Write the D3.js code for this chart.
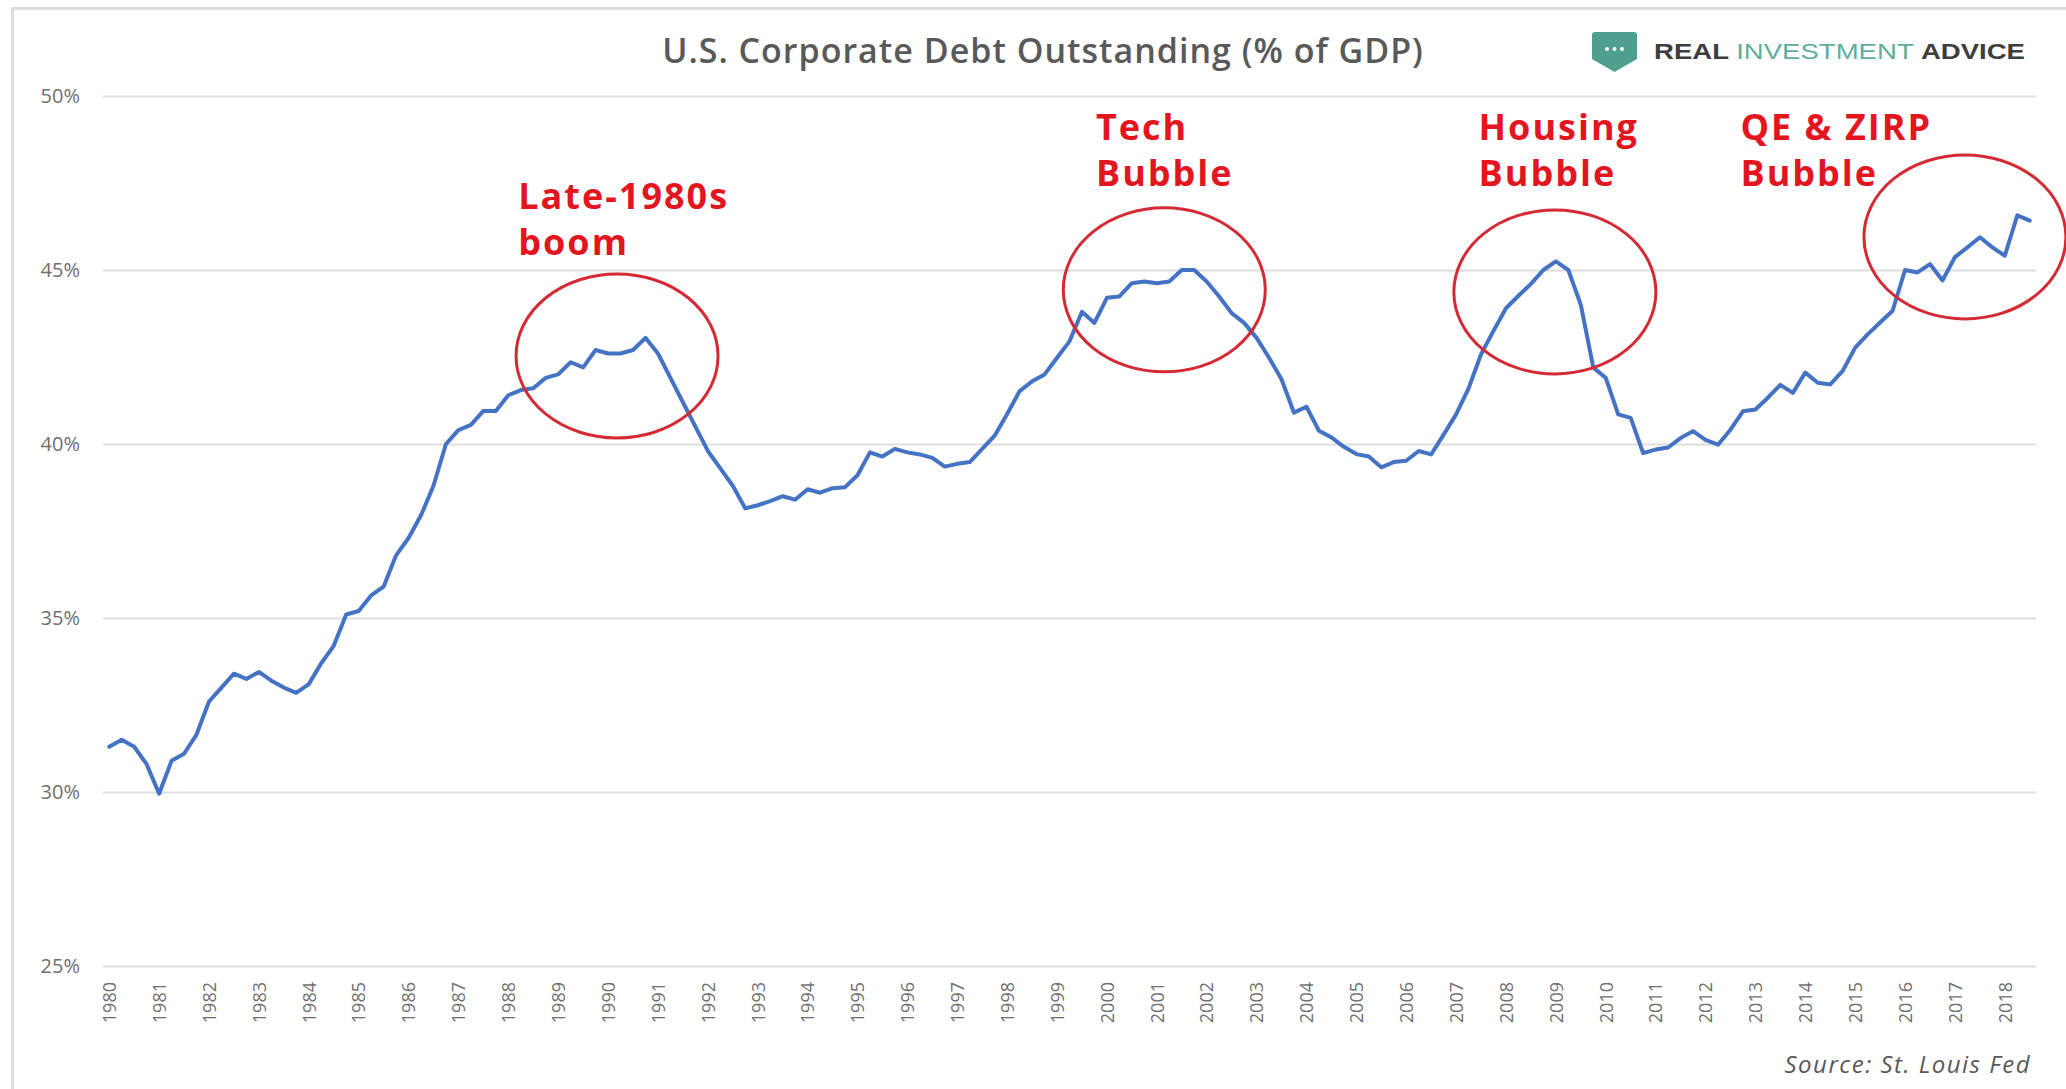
<!DOCTYPE html>
<html>
<head>
  <meta charset="utf-8" />
  <script src="https://d3js.org/d3.v7.min.js"></script>
  <style>
    * {
      margin: 0;
      padding: 0;
      box-sizing: border-box;
    }

    body {
      background-color: #ffffff;
      width: 2066px;
      height: 1089px;
      overflow: hidden;
    }

    svg {
      display: block;
    }

    .axis text {
      font-family: "Open Sans", "Liberation Sans", sans-serif;
      fill: #6f6f6f;
    }

    .annot {
      font-family: "Open Sans", sans-serif;
      font-weight: 700;
      fill: #e3161f;
      letter-spacing: 2px;
    }
  </style>
</head>
<body>
  <svg width="2066" height="1089"></svg>

  <script>
    // quarterly corporate debt, % of GDP, 1980 Q1 .. 2018 Q3
    const startYear = 1980;
    const debtPct = [
      31.3, 31.5, 31.3, 30.8,   // 1980
      29.95, 30.9, 31.1, 31.65, // 1981
      32.6, 33.0, 33.4, 33.25,  // 1982
      33.45, 33.2, 33.0, 32.85, // 1983
      33.1, 33.7, 34.2, 35.1,   // 1984
      35.2, 35.65, 35.9, 36.8,  // 1985
      37.3, 37.95, 38.8, 40.0,  // 1986
      40.4, 40.55, 40.95, 40.95, // 1987
      41.4, 41.55, 41.6, 41.9,  // 1988
      42.0, 42.35, 42.2, 42.7,  // 1989
      42.6, 42.6, 42.7, 43.05,  // 1990
      42.6, 41.9, 41.2, 40.5,   // 1991
      39.8, 39.3, 38.8, 38.15,  // 1992
      38.24, 38.36, 38.5, 38.4, // 1993
      38.7, 38.6, 38.73, 38.76, // 1994
      39.1, 39.76, 39.64, 39.86, // 1995
      39.76, 39.7, 39.6, 39.35, // 1996
      39.43, 39.48, 39.86, 40.24, // 1997
      40.86, 41.52, 41.8, 42.0, // 1998
      42.48, 42.95, 43.8, 43.48, // 1999
      44.2, 44.24, 44.62, 44.67, // 2000
      44.62, 44.67, 45.0, 45.0, // 2001
      44.67, 44.24, 43.76, 43.48, // 2002
      43.05, 42.48, 41.86, 40.9, // 2003
      41.07, 40.38, 40.19, 39.92, // 2004
      39.71, 39.64, 39.33, 39.48, // 2005
      39.52, 39.8, 39.7, 40.27, // 2006
      40.85, 41.6, 42.58, 43.25, // 2007
      43.9, 44.26, 44.6, 45.0,  // 2008
      45.25, 45.0, 44.0, 42.2,  // 2009
      41.9, 40.85, 40.75, 39.74, // 2010
      39.84, 39.9, 40.17, 40.37, // 2011
      40.12, 39.98, 40.41, 40.94, // 2012
      40.99, 41.33, 41.7, 41.47, // 2013
      42.05, 41.76, 41.71, 42.1, // 2014
      42.77, 43.15, 43.49, 43.83, // 2015
      45.0, 44.93, 45.17, 44.7, // 2016
      45.37, 45.65, 45.94, 45.65, // 2017
      45.41, 46.57, 46.42       // 2018
    ];

    const yTicks = [25, 30, 35, 40, 45, 50];

    // annotation labels, anchored in data units (year, % of GDP)
    const noteLines = [["Late-1980s", "boom"], ["Tech", "Bubble"], ["Housing", "Bubble"], ["QE & ZIRP", "Bubble"]];
    const noteYear = [1988.2, 1999.78, 2007.45, 2012.7];
    const noteValue = [46.75, 48.75, 48.75, 48.75];

    // red circles round each peak
    const circleYear = [1990.18, 2001.15, 2008.98, 2017.2];
    const circleValue = [42.53, 44.43, 44.37, 45.95];

    const svg = d3.select("svg");
    const W = 2066, H = 1089;
    const plot = { left: 103, right: 2036, top: 96, bottom: 966 };

    // outer frame of the picture
    svg.append("rect")
      .attr("x", 12.5).attr("y", 8.5)
      .attr("width", W).attr("height", H)
      .attr("fill", "#fff")
      .attr("stroke", "#dcdcdc")
      .attr("stroke-width", 3);

    const idx = d3.range(debtPct.length);
    const x = d3.scalePoint().domain(idx).range([plot.left, plot.right]).padding(0.5);
    const y = d3.scaleLinear().domain([25, 50]).range([plot.bottom, plot.top]);
    const xYear = yr => x(0) + (yr - startYear) * 4 * x.step();

    // y axis + gridlines
    const yAxis = svg.append("g")
      .attr("class", "axis")
      .attr("transform", `translate(${plot.left},0)`)
      .call(d3.axisLeft(y).tickValues(yTicks).tickFormat(d => d + "%")
        .tickSize(-(plot.right - plot.left)).tickPadding(23));
    yAxis.select(".domain").remove();
    yAxis.selectAll("line").attr("stroke", "#dedede").attr("stroke-width", 2);
    yAxis.selectAll("text").style("font-size", "20px");

    // x axis, one label per year
    const xAxis = svg.append("g")
      .attr("class", "axis")
      .attr("transform", `translate(0,${plot.bottom})`)
      .call(d3.axisBottom(x)
        .tickValues(idx.filter(i => i % 4 === 0))
        .tickFormat(i => startYear + i / 4)
        .tickSize(0));
    xAxis.select(".domain").remove();
    xAxis.selectAll("text")
      .attr("transform", "rotate(-90)")
      .attr("text-anchor", "end")
      .attr("x", -16)
      .attr("y", 0)
      .attr("dy", "0.35em")
      .style("font-size", "18px");

    // the series
    const line = d3.line().x((d, i) => x(i)).y(d => y(d));
    svg.append("path")
      .datum(debtPct)
      .attr("d", line)
      .attr("fill", "none")
      .attr("stroke", "#4472c4")
      .attr("stroke-width", 4)
      .attr("stroke-linejoin", "round")
      .attr("stroke-linecap", "round");

    // circles
    svg.selectAll(".ring")
      .data(circleYear)
      .join("ellipse")
      .attr("class", "ring")
      .attr("cx", d => xYear(d))
      .attr("cy", (d, i) => y(circleValue[i]))
      .attr("rx", 101)
      .attr("ry", 82)
      .attr("fill", "none")
      .attr("stroke", "#d52a33")
      .attr("stroke-width", 3);

    // red annotation text
    noteLines.forEach((lines, i) => {
      const t = svg.append("text")
        .attr("class", "annot")
        .attr("x", xYear(noteYear[i]))
        .attr("y", y(noteValue[i]))
        .style("font-size", "36px");
      lines.forEach((s, j) => {
        t.append("tspan")
          .attr("x", xYear(noteYear[i]))
          .attr("dy", j === 0 ? 0 : 46)
          .text(s);
      });
    });

    // title
    svg.append("text")
      .attr("x", 1043)
      .attr("y", 63)
      .attr("text-anchor", "middle")
      .style("font-family", "'Open Sans', sans-serif")
      .style("font-weight", 600)
      .style("font-size", "34px")
      .style("letter-spacing", "1px")
      .style("fill", "#595959")
      .text("U.S. Corporate Debt Outstanding (% of GDP)");

    // logo: shield + wordmark
    const logo = svg.append("g").attr("transform", "translate(1592,32)");
    logo.append("path")
      .attr("d", "M3,0 L42,0 Q45,0 45,3 L45,27 L22.5,40 L0,27 L0,3 Q0,0 3,0 Z")
      .attr("fill", "#4f9f8e");
    [15, 22.5, 30].forEach(cx => {
      logo.append("circle").attr("cx", cx).attr("cy", 17).attr("r", 2).attr("fill", "#fff");
    });
    const word = svg.append("text")
      .attr("x", 1654)
      .attr("y", 59)
      .attr("textLength", 371)
      .attr("lengthAdjust", "spacingAndGlyphs")
      .style("font-family", "'Liberation Sans', sans-serif")
      .style("font-weight", 700)
      .style("font-size", "22px");
    word.append("tspan").style("fill", "#3d3d3d").text("REAL ");
    word.append("tspan").style("fill", "#5fae9c").style("font-weight", 400).text("INVESTMENT ");
    word.append("tspan").style("fill", "#3d3d3d").text("ADVICE");

    // source note
    svg.append("text")
      .attr("x", 2031)
      .attr("y", 1073)
      .attr("text-anchor", "end")
      .style("font-family", "'Open Sans', sans-serif")
      .style("font-style", "italic")
      .style("font-size", "24px")
      .style("letter-spacing", "1.5px")
      .style("fill", "#595959")
      .text("Source: St. Louis Fed");
  </script>
</body>
</html>
